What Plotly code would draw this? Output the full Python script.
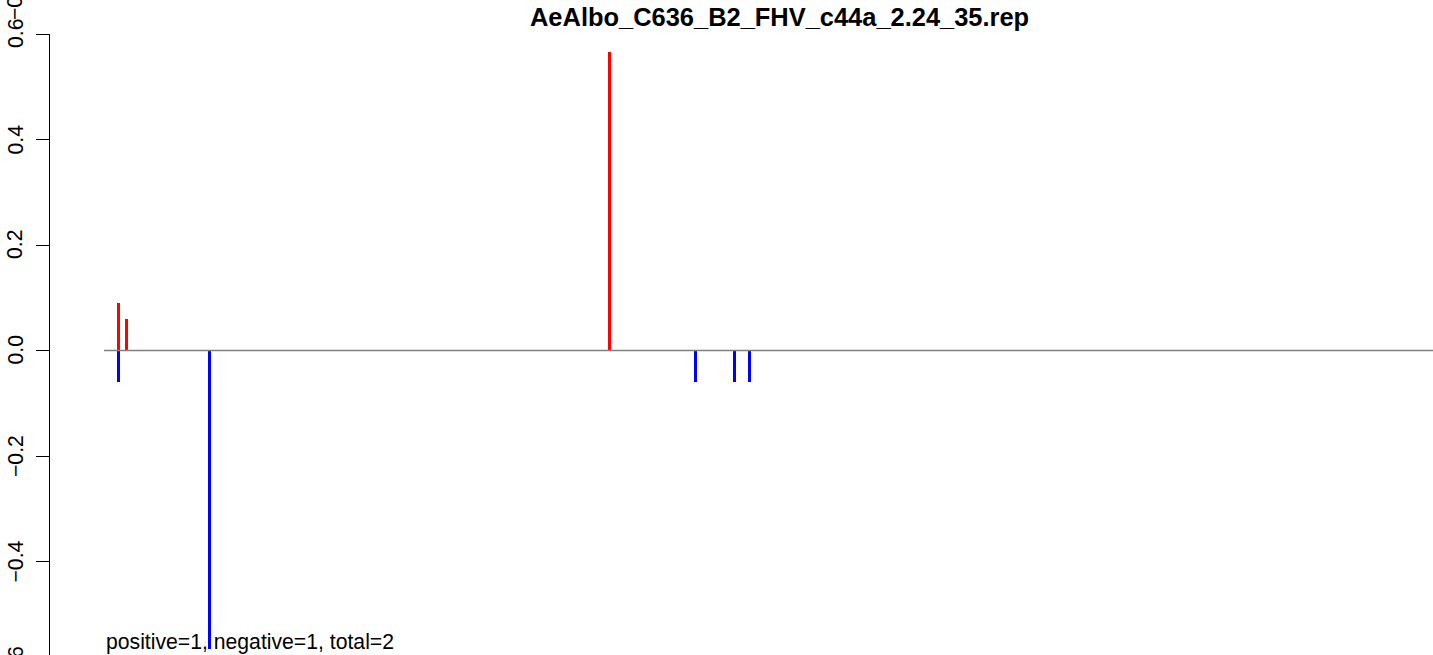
import plotly.graph_objects as go

# Data (genome positions and normalized values)
pos_positions = [16, 24, 525]
pos_values = [0.09, 0.06, 0.566]
neg_positions = [16, 110, 614, 654, 670]
neg_values = [-0.06, -0.566, -0.06, -0.06, -0.06]
genome_start = 1
genome_end = 1400
y_ticks = [0.6, 0.4, 0.2, 0.0, -0.2, -0.4, -0.6]
y_tick_labels = ["0.6", "0.4", "0.2", "0.0", "\u22120.2", "\u22120.4", "\u22120.6"]
title_text = "AeAlbo_C636_B2_FHV_c44a_2.24_35.rep"
summary_text = "positive=1, negative=1, total=2"

W, H = 1433, 655
L, T = 50, 34
FONT = "Liberation Sans, Arial, sans-serif"
FS = 21.2

# pixel mapping helpers (layout only)
s = 0.965  # px per nt
x0px = 104
xr = [genome_start + (L - x0px) / s, genome_start + (W - x0px) / s]
ppu = 527.5
zero_px = 350.5
yr = [-(H - zero_px) / ppu, (zero_px - T) / ppu]

fig = go.Figure()
fig.add_trace(go.Scatter(x=[genome_start, genome_end], y=[0, 0], mode="lines",
                         line=dict(color="#808080", width=1.3), hoverinfo="skip", showlegend=False))
fig.add_trace(go.Bar(x=pos_positions, y=pos_values, base=0, width=3 / s,
                     marker=dict(color="#ff0000", line=dict(width=0)), showlegend=False))
fig.add_trace(go.Bar(x=neg_positions, y=neg_values, base=0, width=3 / s,
                     marker=dict(color="#0000ff", line=dict(width=0)), showlegend=False))

ann = []
plot_w = W - L
plot_h = H - T
lab_x = (15 - L) / plot_w
for v, t in zip(y_ticks, y_tick_labels):
    ypx = zero_px - v * ppu
    ann.append(dict(x=lab_x, xref="paper", y=(H - ypx) / plot_h, yref="paper", text=t,
                    showarrow=False, textangle=-90, xanchor="center", yanchor="middle",
                    font=dict(family=FONT, size=FS, color="black")))
# overlapping extra label above top tick
ann.append(dict(x=lab_x, xref="paper", y=(H - 22) / plot_h, yref="paper", text="\u22120.6",
                showarrow=False, textangle=-90, xanchor="center", yanchor="bottom",
                font=dict(family=FONT, size=FS, color="black")))
ann.append(dict(x=genome_start, xref="x", y=(H - 642) / plot_h, yref="paper", text=summary_text,
                showarrow=False, xanchor="left", yanchor="middle",
                font=dict(family=FONT, size=FS, color="black")))
ann.append(dict(x=(779 - L) / plot_w, xref="paper", y=(H - 17) / plot_h, yref="paper",
                text="<b>" + title_text + "</b>", showarrow=False, xanchor="center", yanchor="middle",
                font=dict(family=FONT, size=FS * 1.2, color="black")))

fig.update_layout(
    width=W, height=H, margin=dict(l=L, r=0, t=T, b=0),
    paper_bgcolor="white", plot_bgcolor="white",
    barmode="overlay", bargap=0,
    annotations=ann,
    xaxis=dict(range=xr, visible=False, showgrid=False, zeroline=False),
    yaxis=dict(range=yr, showgrid=False, zeroline=False, showline=True, linecolor="black",
               linewidth=1, ticks="outside", ticklen=13, tickcolor="black", tickwidth=1,
               tickvals=y_ticks, showticklabels=False),
)
fig.write_html("out.html", config={"displayModeBar": False},
               post_script="document.body.style.margin='0';document.body.style.overflow='hidden';")
